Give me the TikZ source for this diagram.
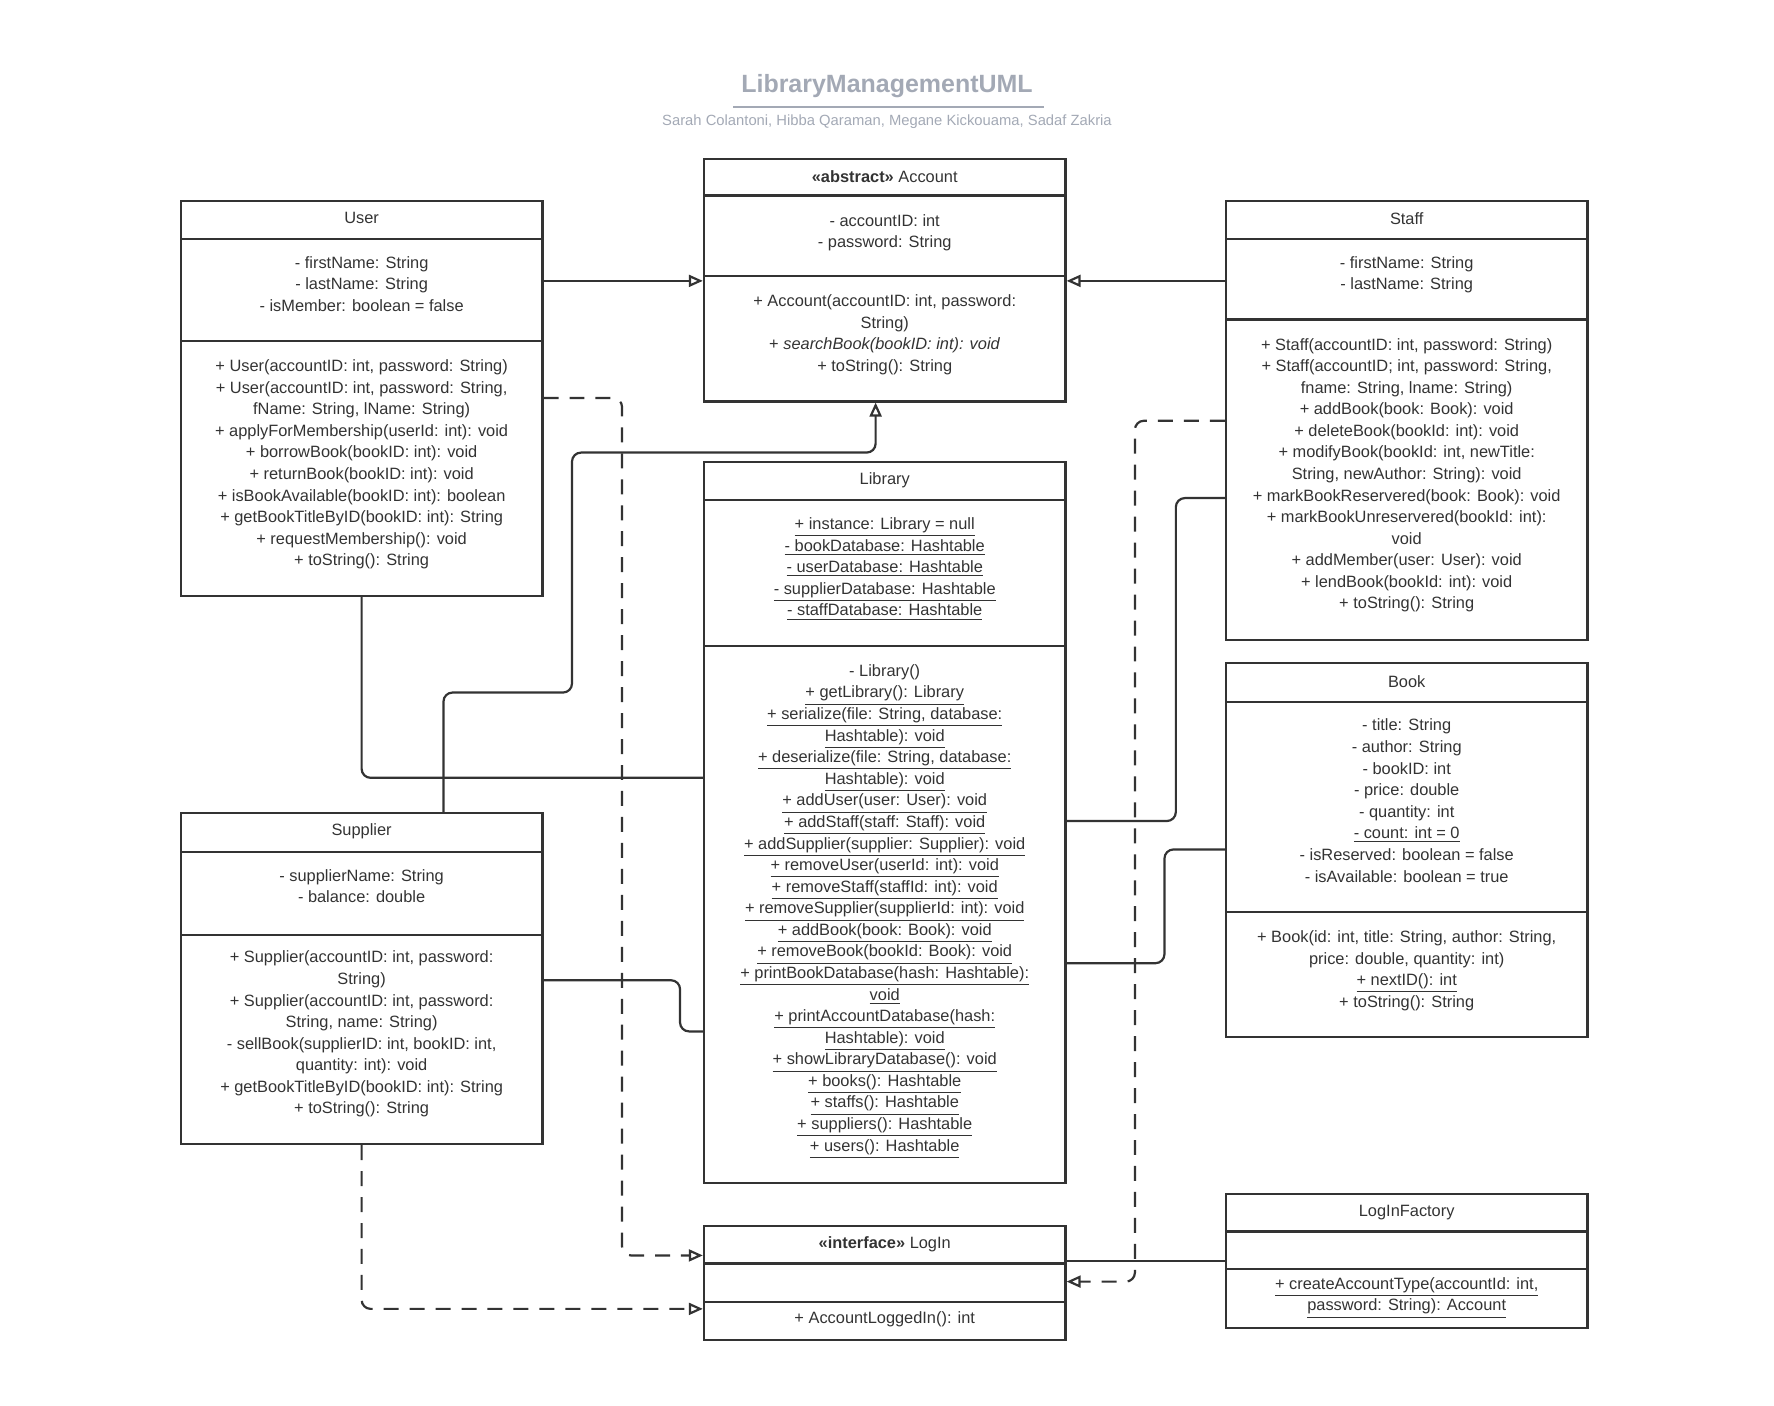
\documentclass[tikz,border=0pt]{standalone}
\usepackage{fontspec}
\setmainfont{Liberation Sans}
\usetikzlibrary{arrows.meta,fit}
\definecolor{ink}{HTML}{333333}
\definecolor{ttl}{HTML}{A3A9B5}
\newcommand\umlf{\fontsize{8.2}{10.8}\selectfont}
\tikzset{
  cls/.style={draw=ink, line width=1.1pt, inner sep=0pt},
  div/.style={draw=ink, line width=1.1pt},
  hd/.style={font=\umlf, text=ink, inner sep=0pt},
  txt/.style={font=\umlf, text=ink, align=center, anchor=north, inner sep=0pt},
  con/.style={draw=ink, line width=1.1pt, rounded corners=4.5pt},
  gen/.style={con, -{Triangle[open, length=7pt, width=6pt]}},
  real/.style={gen, dash pattern=on 7.5pt off 5.5pt},
}
\begin{document}
\begin{tikzpicture}[x=0.02cm, y=-0.02cm]
\path[use as bounding box] (0,0) rectangle (1560,1236);

%%% title
\node[font=\fontsize{12.5}{14}\selectfont\bfseries, text=ttl] (title) at (780,76) {LibraryManagementUML};
\draw[ttl, line width=1pt] (645,94) -- (918,94);
\node[font=\fontsize{7.4}{9}\selectfont, text=ttl] (sub) at (780,107) {Sarah Colantoni, Hibba Qaraman, Megane Kickouama, Sadaf Zakria};

%%% User
\node[cls, fit={(159,177) (477,524)}] (user) {};
\draw[div] (159,210) -- (477,210) (159,300) -- (477,300);
\node[hd] at (318,192) {User};
\node[txt] at (318,225) {- firstName: String\\- lastName: String\\- isMember: boolean = false};
\node[txt] at (318,316) {+ User(accountID: int, password: String)\\+ User(accountID: int, password: String,\\fName: String, lName: String)\\+ applyForMembership(userId: int): void\\+ borrowBook(bookID: int): void\\+ returnBook(bookID: int): void\\+ isBookAvailable(bookID: int): boolean\\+ getBookTitleByID(bookID: int): String\\+ requestMembership(): void\\+ toString(): String};

%%% Account
\node[cls, fit={(619,140) (937,353)}] (acc) {};
\draw[div] (619,172) -- (937,172) (619,243) -- (937,243);
\node[hd] at (778,155) {\textbf{<<abstract>>} Account};
\node[txt] at (778,188) {- accountID: int\\- password: String};
\node[txt] at (778,259) {+ Account(accountID: int, password:\\String)\\+ \textit{searchBook(bookID: int): void}\\+ toString(): String};

%%% Staff
\node[cls, fit={(1078,177) (1396,563)}] (staff) {};
\draw[div] (1078,210) -- (1396,210) (1078,281) -- (1396,281);
\node[hd] at (1237,192) {Staff};
\node[txt] at (1237,225) {- firstName: String\\- lastName: String};
\node[txt] at (1237,297) {+ Staff(accountID: int, password: String)\\+ Staff(accountID; int, password: String,\\fname: String, lname: String)\\+ addBook(book: Book): void\\+ deleteBook(bookId: int): void\\+ modifyBook(bookId: int, newTitle:\\String, newAuthor: String): void\\+ markBookReservered(book: Book): void\\+ markBookUnreservered(bookId: int):\\void\\+ addMember(user: User): void\\+ lendBook(bookId: int): void\\+ toString(): String};

%%% Library
\node[cls, fit={(619,406) (937,1040)}] (lib) {};
\draw[div] (619,440) -- (937,440) (619,568) -- (937,568);
\node[hd] at (778,422) {Library};
\node[txt] at (778,455) {\underline{+ instance: Library = null}\\\underline{- bookDatabase: Hashtable}\\\underline{- userDatabase: Hashtable}\\\underline{- supplierDatabase: Hashtable}\\\underline{- staffDatabase: Hashtable}};
\node[txt] at (778,584) {- Library()\\\underline{+ getLibrary(): Library}\\\underline{+ serialize(file: String, database:}\\\underline{Hashtable): void}\\\underline{+ deserialize(file: String, database:}\\\underline{Hashtable): void}\\\underline{+ addUser(user: User): void}\\\underline{+ addStaff(staff: Staff): void}\\\underline{+ addSupplier(supplier: Supplier): void}\\\underline{+ removeUser(userId: int): void}\\\underline{+ removeStaff(staffId: int): void}\\\underline{+ removeSupplier(supplierId: int): void}\\\underline{+ addBook(book: Book): void}\\\underline{+ removeBook(bookId: Book): void}\\\underline{+ printBookDatabase(hash: Hashtable):}\\\underline{void}\\\underline{+ printAccountDatabase(hash:}\\\underline{Hashtable): void}\\\underline{+ showLibraryDatabase(): void}\\\underline{+ books(): Hashtable}\\\underline{+ staffs(): Hashtable}\\\underline{+ suppliers(): Hashtable}\\\underline{+ users(): Hashtable}};

%%% Supplier
\node[cls, fit={(159,715) (477,1006)}] (sup) {};
\draw[div] (159,749) -- (477,749) (159,822) -- (477,822);
\node[hd] at (318,731) {Supplier};
\node[txt] at (318,764) {- supplierName: String\\- balance: double};
\node[txt] at (318,836) {+ Supplier(accountID: int, password:\\String)\\+ Supplier(accountID: int, password:\\String, name: String)\\- sellBook(supplierID: int, bookID: int,\\quantity: int): void\\+ getBookTitleByID(bookID: int): String\\+ toString(): String};

%%% Book
\node[cls, fit={(1078,583) (1396,912)}] (book) {};
\draw[div] (1078,617) -- (1396,617) (1078,802) -- (1396,802);
\node[hd] at (1237,599) {Book};
\node[txt] at (1237,632) {- title: String\\- author: String\\- bookID: int\\- price: double\\- quantity: int\\\underline{- count: int = 0}\\- isReserved: boolean = false\\- isAvailable: boolean = true};
\node[txt] at (1237,818) {+ Book(id: int, title: String, author: String,\\price: double, quantity: int)\\\underline{+ nextID(): int}\\+ toString(): String};

%%% LogIn
\node[cls, fit={(619,1078) (937,1178)}] (login) {};
\draw[div] (619,1111) -- (937,1111) (619,1145) -- (937,1145);
\node[hd] at (778,1094) {\textbf{<<interface>>} LogIn};
\node[hd] at (778,1160) {+ AccountLoggedIn(): int};

%%% LogInFactory
\node[cls, fit={(1078,1050) (1396,1168)}] (fact) {};
\draw[div] (1078,1083) -- (1396,1083) (1078,1116) -- (1396,1116);
\node[hd] at (1237,1066) {LogInFactory};
\node[txt] at (1237,1123) {\underline{+ createAccountType(accountId: int,}\\\underline{password: String): Account}};

%%% connectors
\draw[gen] (user.east |- 0,247) -- (acc.west |- 0,247);
\draw[gen] (staff.west |- 0,247) -- (acc.east |- 0,247);
\draw[gen] (sup.north -| 390,0) -- (390,609) -- (503,609) -- (503,398) -- (770,398) -- (acc.south -| 770,0);
\draw[real] (user.east |- 0,350) -- (547,350) -- (547,1104) -- (login.west |- 0,1104);
\draw[real] (sup.south) -- (318,1151) -- (login.west |- 0,1151);
\draw[real] (staff.west |- 0,370) -- (998,370) -- (998,1127) -- (login.east |- 0,1127);
\draw[con] (user.south) -- (318,684) -- (lib.west |- 0,684);
\draw[con] (sup.east |- 0,862) -- (598,862) -- (598,907) -- (lib.west |- 0,907);
\draw[con] (lib.east |- 0,722) -- (1034,722) -- (1034,438) -- (staff.west |- 0,438);
\draw[con] (lib.east |- 0,847) -- (1024,847) -- (1024,747) -- (book.west |- 0,747);
\draw[con] (fact.west |- 0,1109) -- (login.east |- 0,1109);
\end{tikzpicture}
\end{document}
